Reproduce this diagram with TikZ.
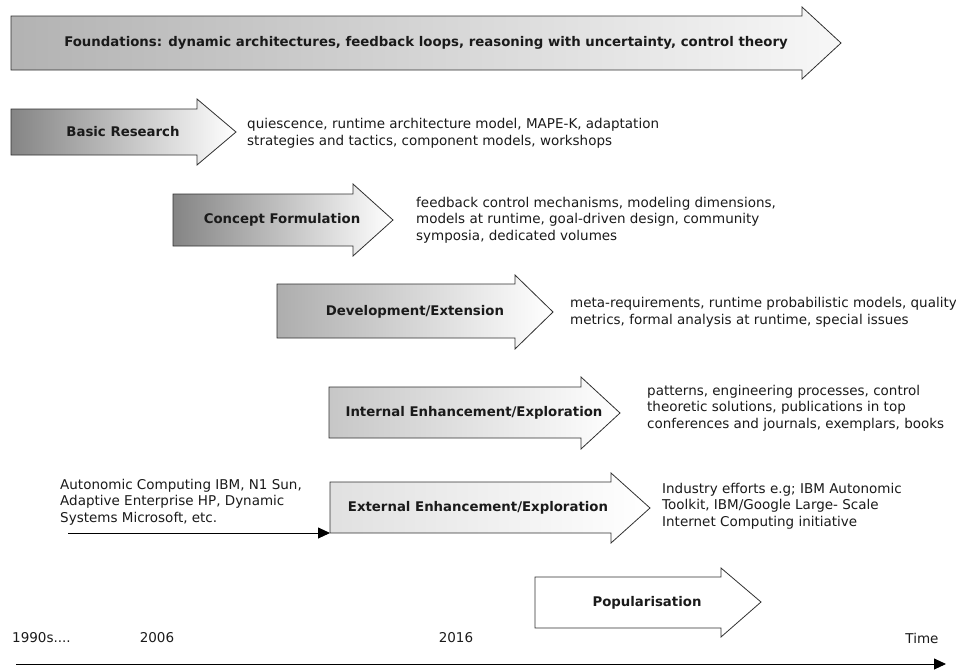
\documentclass[tikz,border=0pt]{standalone}
\usepackage{fontspec}
\setmainfont{DejaVu Sans}
\usetikzlibrary{arrows.meta}
\definecolor{outl}{HTML}{303030}
\definecolor{txt}{HTML}{1A1A1A}
\begin{document}
\begin{tikzpicture}[x=1pt,y=-1pt,
  fatarrow/.style={draw=outl,line width=0.8pt,line join=miter,right color=white},
  lbl/.style={font=\fontsize{13.3}{16}\selectfont\bfseries,text=txt,inner sep=0pt},
  desc/.style={font=\fontsize{13.5}{16.6}\selectfont,text=txt,align=left,anchor=west,inner sep=0pt},
  axis/.style={line width=0.9pt,-{Triangle[length=12pt,width=11pt]}}]
\useasboundingbox (0,0) rectangle (956,672);

% Foundations
\path[fatarrow,left color=black!30,right color=black!3]
  (11,16) -- (802,16) -- (802,7) -- (841,43) -- (802,79) -- (802,70) -- (11,70) -- cycle;
\node[lbl] (found) at (426,43) {Foundations: dynamic architectures, feedback loops, reasoning with uncertainty, control theory};

% Basic Research
\path[fatarrow,left color=black!48]
  (11,109) -- (197,109) -- (197,99) -- (236,132) -- (197,165) -- (197,155) -- (11,155) -- cycle;
\node[lbl] (basic) at (123,132) {Basic Research};
\node[desc] (basicd) at (247,133) {quiescence, runtime architecture model, MAPE-K, adaptation\\strategies and tactics, component models, workshops};

% Concept Formulation
\path[fatarrow,left color=black!48]
  (173,194) -- (353,194) -- (353,184) -- (393,220) -- (353,256) -- (353,246) -- (173,246) -- cycle;
\node[lbl] (concept) at (282,220) {Concept Formulation};
\node[desc] (conceptd) at (416,220) {feedback control mechanisms, modeling dimensions,\\models at runtime, goal-driven design, community\\symposia, dedicated volumes};

% Development/Extension
\path[fatarrow,left color=black!32]
  (277,284) -- (515,284) -- (515,275) -- (553,312) -- (515,349) -- (515,338) -- (277,338) -- cycle;
\node[lbl] (devel) at (415,312) {Development/Extension};
\node[desc] (develd) at (570,312) {meta-requirements, runtime probabilistic models, quality\\metrics, formal analysis at runtime, special issues};

% Internal Enhancement/Exploration
\path[fatarrow,left color=black!22]
  (329,387) -- (581,387) -- (581,377) -- (620,413) -- (581,449) -- (581,438) -- (329,438) -- cycle;
\node[lbl] (internal) at (474,413) {Internal Enhancement/Exploration};
\node[desc] (internald) at (647,408) {patterns, engineering processes, control\\theoretic solutions, publications in top\\conferences and journals, exemplars, books};

% External Enhancement/Exploration
\path[fatarrow,left color=black!12]
  (330,482) -- (611,482) -- (611,473) -- (650,508) -- (611,543) -- (611,533) -- (330,533) -- cycle;
\coordinate (extcorner) at (330,533);
\node[lbl] (external) at (478,508) {External Enhancement/Exploration};
\node[desc] (externald) at (662,506) {Industry efforts e.g; IBM Autonomic\\Toolkit, IBM/Google Large- Scale\\Internet Computing initiative};

% Autonomic computing note and arrow
\node[desc] (auton) at (60,502) {Autonomic Computing IBM, N1 Sun,\\Adaptive Enterprise HP, Dynamic\\Systems Microsoft, etc.};
\coordinate (autstart) at (68,533);
\draw[axis] (autstart) -- (extcorner);

% Popularisation
\path[fatarrow,fill=white,left color=white,right color=white]
  (535,577) -- (721,577) -- (721,568) -- (761,602) -- (721,637) -- (721,628) -- (535,628) -- cycle;
\node[lbl] (popular) at (647,603) {Popularisation};

% Time axis
\node[desc,anchor=west] (y1990) at (12,638) {1990s....};
\node[desc,anchor=center] (y2006) at (157,638) {2006};
\node[desc,anchor=center] (y2016) at (456,638) {2016};
\node[desc,anchor=center] (ytime) at (922,638) {Time};
\coordinate (tstart) at (16,664);
\coordinate (tend) at (946,664);
\draw[axis] (tstart) -- (tend);
\end{tikzpicture}
\end{document}
